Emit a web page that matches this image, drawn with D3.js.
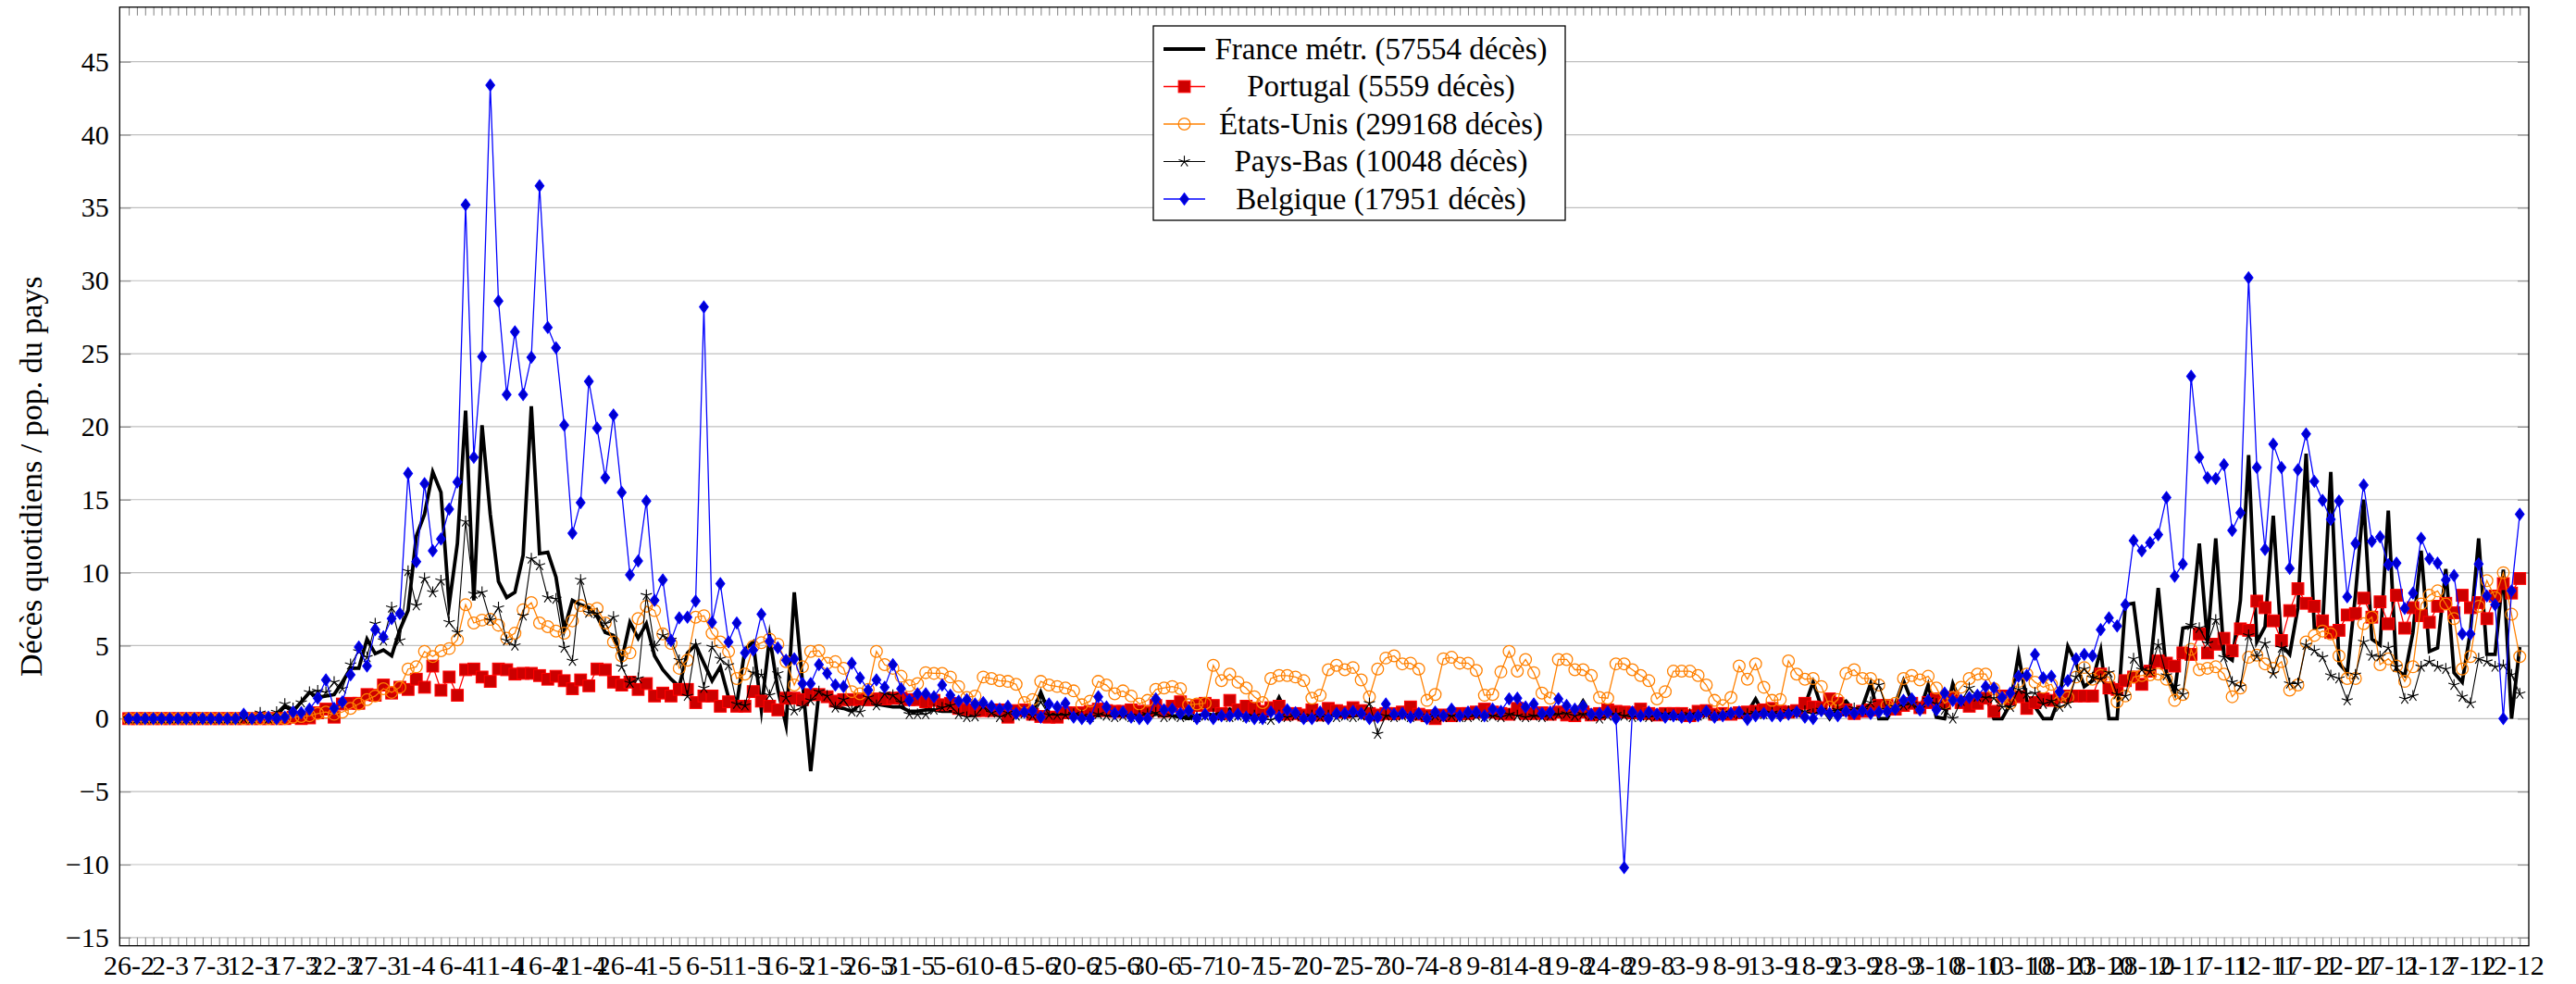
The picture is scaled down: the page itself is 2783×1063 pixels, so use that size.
<!DOCTYPE html>
<html>
<head>
<meta charset="utf-8">
<script src="https://cdn.jsdelivr.net/npm/d3@7"></script>
<style>
html, body { margin: 0; padding: 0; background: #fff; }
svg text { font-family: "Liberation Serif", "Times New Roman", serif; fill: #000; }
</style>
</head>
<body>
<svg id="chart" width="2783" height="1063"></svg>
<script>
// one value per day, from 26-2 (index 0) to 13-12 (index 291), deaths per million
const france = [
  0,0,0,0,0,0,0,0,0,0, 0,0,0,0,0,0.05,0.1,0.05,0.2,0.85,
  0.5,1.15,1.8,1.45,1.55,1.65,2.5,3.45,3.45,5.45, 4.45,4.7,4.3,6.1,7.4,12.5,14.0,16.9,15.5,7.8,
  12.0,21.1,8.1,20.1,14.0,9.4,8.3,8.65,11.2,21.4, 11.3,11.4,9.7,6.1,8.1,7.8,7.6,7.0,5.9,5.7,
  4.0,6.6,5.5,6.5,4.3,3.35,2.7,2.2,4.5,5.05, 3.8,2.6,3.55,1.45,1.0,4.75,5.25,0.6,5.6,2.0,
  -0.45,8.65,2.5,-3.6,1.8,1.45,0.8,0.7,0.5,1.0, 1.0,1.0,0.9,0.8,0.8,0.5,0.5,0.6,0.6,0.5,
  0.5,0.5,0.4,0.4,0.5,0.4,0.3,0.4,0.3,0.4, 0.4,1.8,0.4,0.3,0.3,0.3,0.2,0.3,0.2,0.3,
  0.2,0.3,0.2,0.3,0.2,0.3,0.4,0.2,0.1,0.0, 0.2,0.3,0.2,0.3,0.65,0.3,0.2,0.3,0.2,0.3,
  1.45,0.3,0.2,0.3,0.2,0.1,0.2,0.3,0.2,0.3, 0.2,0.3,0.2,0.3,0.2,0.3,0.2,0.2,0.3,0.2,
  0.2,0.3,0.2,0.2,0.2,0.2,0.3,0.3,0.6,0.3, 0.2,0.3,0.2,0.3,
  0.4,0.3,0.3,1.2,0.3,0.25,0.3,0.2,0.3,0.35, 0.3,0.4,0.3,0.35,0.3,0.4,0.35,0.3,0.5,0.2,
  0.35,0.4,0.5,0.4,1.35,0.3,0.6,0.7,0.7,0.7, 0.9,2.5,0.8,0.0,0.9,1.2,0.5,0.8,2.4,0.0,
  0.0,1.0,2.6,1.2,0.6,2.3,0.1,0.0,2.4,1.0, 0.9,1.3,1.6,0.0,0.0,1.0,4.4,1.2,0.8,
  0,0,1.5,4.95,3.8,2.2,2.6,4.7,0,0, 7.8,7.9,3.45,3.35,8.95,3.15,1.8,6.2,6.3,12.0,
  5.25,12.35,4.4,4.0,8.1,18.05,5.25,6.3,13.9,5.05, 4.4,7.6,18.15,6.2,6.3,16.9,3.8,3.15,8.45,15.0,
  5.45,5.05,14.25,3.35,2.95,5.9,11.5,4.6,4.85,10.25, 3.15,2.5,6.0,12.35,4.4,4.4,10.2,0,4.9
];
const portugal = [
  0,0,0,0,0,0,0,0,0,0, 0,0,0,0,0,0,0,0,0,0,
  0.1,0,0.05,0.4,0.65,0.1,1.0,1.05,1.05,1.65, 1.6,2.3,1.75,2.15,2.0,2.7,2.15,3.6,1.95,2.85,
  1.6,3.35,3.4,2.85,2.55,3.4,3.35,3.05,3.1,3.1, 2.95,2.7,2.9,2.6,2.05,2.65,2.25,3.4,3.35,2.5,
  2.3,2.5,2.0,2.4,1.55,1.75,1.55,2.0,2.0,1.1, 1.55,1.55,0.85,1.15,0.85,0.85,1.85,1.2,0.85,0.6,
  1.4,1.4,1.3,1.65,1.65,1.5,1.2,1.3,1.3,1.35, 1.3,1.35,1.35,1.4,1.4,1.3,1.3,1.15,1.25,0.95,
  1.05,0.7,0.6,0.55,0.55,0.55,0.6,0.1,0.55,0.6, 0.3,0.15,0.1,0.1,0.4,
  0.4,
  0.4,0.5,0.65,0.55,0.5,0.5,0.6,0.5,0.5,0.9, 0.5,0.85,1.15,0.75,0.9,1.05,0.9,0.35,1.25,0.6,
  0.85,0.7,0.5,0.75,0.85,0.3,0.35,0.25,0.6,0.25, 0.7,0.55,0.45,0.75,0.55,0.35,0.25,0.35,0.35,0.45,
  0.8,0.3,0.2,0,0.25,0.2,0.35,0.35,0.45,0.65, 0.45,0.35,0.3,0.7,0.35,0.35,0.4,0.3,
  0.45,0.25,0.2,0.45,0.25,0.35,0.6,0.5,0.45,0.4, 0.65,0.35,0.25,0.35,0.35,0.35,0.2,0.5,0.55,0.3,
  0.35,0.3,0.4,0.45,0.5,0.6,0.7,0.5,0.45,0.55, 1.05,0.8,0.75,1.35,1.05,0.6,0.35,0.5,0.6,0.9,
  0.9,0.65,0.9,1.05,0.75,1.1,1.35,1.05,1.45,1.1, 0.85,1.05,1.4,0.5,1.55,1.35,1.5,0.7,1.1,
  1.35,1.25,1.5,1.55,1.55,1.55,1.55,3.05,2.1,2.0, 2.6,2.85,2.35,3.25,3.95,3.8,3.6,4.5,4.4,5.8,
  4.5,5.1,5.5,4.65,6.15,6.05,8.05,7.6,6.7,5.35, 7.4,8.9,7.9,7.7,6.7,5.9,6.05,7.1,7.2,8.25,
  6.95,8.0,6.5,8.45,6.2,7.6,7.05,6.6,7.7,7.9, 7.25,8.45,7.6,7.95,6.85,8.4,9.25,8.6,9.6
];
const usa = [
  0,0,0,0,0,0,0,0,0,0, 0,0,0,0,0,0,0,0,0,0,
  0.1,0.15,0.2,0.35,0.45,0.3,0.45,0.7,1.0,1.3, 1.55,2.05,1.8,2.15,3.4,3.55,4.6,4.25,4.65,4.8,
  5.4,7.8,6.55,6.75,6.8,6.4,5.5,5.85,7.45,7.95, 6.55,6.3,6.0,5.85,6.7,7.75,7.45,7.55,6.55,5.25,
  4.3,4.5,6.85,7.7,7.4,5.8,5.15,3.45,4.0,6.95, 7.05,5.85,5.25,4.6,2.75,3.05,4.95,5.2,5.45,5.1,
  3.9,2.3,3.55,4.6,4.65,3.8,3.9,3.45,1.85,1.7, 2.0,4.6,3.7,3.45,2.9,2.25,2.4,3.15,3.1,3.1,
  2.85,2.2,1.45,1.55,2.85,2.75,2.6,2.55,2.35,1.1, 1.3,2.55,2.3,2.2,2.1,
  1.9,0.95,1.2,2.55,2.3,1.7,1.9,1.55,1.0,1.25, 2.0,2.1,2.2,2.05,0.95,1.0,1.05,3.65,2.6,3.05,
  2.5,2.1,1.5,1.1,2.75,2.95,2.95,2.85,2.6,1.4, 1.6,3.35,3.65,3.35,3.5,2.65,1.5,3.4,4.15,4.3,
  3.75,3.8,3.4,1.25,1.65,4.1,4.2,3.8,3.8,3.3, 1.6,1.65,3.2,4.6,3.25,4.05,3.15,1.75,1.4,
  4.05,4.05,3.35,3.35,2.95,1.45,1.4,3.75,3.75,3.35, 2.95,2.6,1.35,1.85,3.25,3.25,3.25,2.95,2.3,1.25,
  0.9,1.45,3.6,2.7,3.75,2.15,1.25,1.3,3.95,3.05, 2.7,2.75,2.2,0.8,1.3,3.1,3.35,2.75,2.75,2.3,
  0.9,1.05,2.75,2.95,2.65,2.9,2.1,1.05,1.45,2.15, 2.75,3.05,3.05,2.05,1.4,1.05,2.55,3.05,2.5,
  2.15,2.35,1.15,1.45,2.85,3.5,2.7,2.95,2.85,1.15, 1.55,2.85,2.95,3.0,3.05,2.7,1.25,1.65,4.75,3.35,
  3.45,3.55,3.05,1.5,2.1,4.2,4.35,3.75,3.45,3.9, 1.95,2.3,5.25,5.7,6.0,5.8,4.3,2.75,2.75,6.5,
  6.95,3.7,4.1,3.6,2.55,3.55,7.85,8.45,8.75,7.85, 6.85,3.4,4.25,7.7,9.45,8.3,10.0,7.15,4.25
];
const paysBas = [
  0,0,0,0,0,0,0,0,0,0, 0,0,0,0,0,0,0.4,0,0.45,1.0,
  0.7,1.1,1.8,1.9,1.8,2.5,2.05,3.7,4.6,4.2, 6.5,5.35,7.6,5.35,10.1,7.75,9.6,8.65,9.45,6.6,
  5.9,13.5,8.55,8.65,6.75,7.6,5.35,5.0,7.05,10.95, 10.5,8.3,8.2,4.85,3.95,9.5,7.25,7.2,6.5,6.95,
  3.55,2.45,2.75,8.45,4.95,5.7,5.4,4.0,1.55,5.05, 2.1,4.9,4.1,3.65,1.0,0.9,3.15,3.0,1.6,3.1,
  1.45,0.55,0.8,1.25,1.85,1.55,0.75,1.3,0.5,0.45, 1.45,0.9,1.7,1.6,1.1,0.3,0.3,0.3,0.6,0.75,
  0.9,0.3,0.1,0.15,0.85,0.4,0.1,0.4,0.2,0.35, 0.2,1.15,0.25,0.25,0.25,
  0.3,0.2,0.1,0.3,0.2,0.1,0.2,0.1,0.2,0.3, 0.4,0.1,0.2,0.1,0.2,0.1,0.2,0.3,0.2,0.1,
  0.2,0.1,0.2,0.0,-0.1,0.2,0.1,0.2,0.1,0.2, 0.1,0.2,0.1,0.2,0.1,0.2,1.05,-1.05,0.2,0.1,
  0.2,0.1,0.2,0.1,0.2,0.1,0.2,0.1,0.1,0.2, 0.1,0.2,0.1,0.3,0.2,0.1,0.2,0.1,0.2,
  0.3,0.35,0.2,0.3,0.2,0.0,0.2,0.3,0.2,0.1, 0.2,0.1,0.2,0.3,0.2,0.2,0.3,0.2,0.3,0.2,
  0.3,0.4,0.3,0.3,0.4,0.3,0.4,0.3,0.5,0.4, 0.5,0.3,0.6,0.5,0.6,0.5,0.7,0.6,1.1,2.3,
  0.6,0.8,0.9,1.0,0.7,1.3,1.0,0.6,0.0,1.2, 2.1,1.5,1.45,1.4,0.8,0.8,2.0,1.7,1.75,
  1.0,1.2,0.8,1.05,2.85,3.4,2.8,2.7,3.15,1.65, 1.55,4.1,3.35,3.25,5.05,2.95,2.2,1.65,6.4,6.2,
  5.15,6.75,4.2,2.5,2.2,5.7,4.25,5.15,3.1,4.85, 2.4,2.4,5.05,4.65,4.2,2.95,2.75,1.25,3.0,5.25,
  4.3,4.25,4.85,3.55,1.35,1.55,3.55,3.9,3.55,3.4, 2.3,1.5,1.05,4.1,3.9,3.55,3.65,3.0,1.7
];
const belgique = [
  0,0,0,0,0,0,0,0,0,0, 0,0,0,0,0.3,0,0.1,0.1,0,0.1,
  0.45,0.4,0.65,1.4,2.65,0.7,1.15,3.0,4.9,3.6, 6.1,5.6,6.85,7.2,16.8,10.75,16.1,11.5,12.3,14.35,
  16.2,35.2,17.9,24.8,43.4,28.6,22.2,26.5,22.2,24.75, 36.5,26.8,25.4,20.1,12.7,14.8,23.1,19.9,16.5,20.8,
  15.5,9.85,10.8,14.9,8.1,9.5,5.35,6.9,6.95,8.05, 28.2,6.6,9.25,5.25,6.55,4.5,4.7,7.15,5.3,4.85,
  4.0,4.1,2.4,2.4,3.7,3.1,2.3,2.2,3.8,2.8, 1.95,2.65,2.15,3.7,2.05,1.25,1.7,1.7,1.5,2.3,
  1.6,1.2,1.3,1.0,1.1,0.85,0.65,0.85,0.35,0.45, 0.55,0.1,1.0,0.8,1.05,
  0.1,
  0,0,1.5,0.8,0.35,0.45,0.1,0,0,1.35, 0.6,0.65,0.35,0.55,0,0.3,0,0.2,0.2,0.3,
  0.1,0,0,0.45,0.1,0.6,0.4,0,0,0.45, 0,0.35,0.35,0.5,0.35,0,0.1,1.0,0.3,0.35,
  0.1,0.35,0,0.45,0.2,0.65,0.2,0.45,0.45,0.2, 0.65,0.5,1.35,1.4,0.8,1.0,0.35,0.45,
  1.35,0.9,0.65,0.85,0.3,0.35,0.45,0,-10.2,0.45, 0.2,0.45,0.3,0.1,0.2,0.1,0.1,0.2,0.5,0.1,
  0.2,0.35,0.45,-0.05,0.2,0.35,0.2,0.2,0.3,0.45, 0.1,0,0.55,0.35,0.2,0.5,0.35,0.55,0.35,0.45,
  0.5,0.65,1.25,1.35,0.6,1.25,0.6,1.75,1.25,1.25, 1.45,1.6,2.2,2.1,1.45,1.75,2.9,2.95,4.4,
  2.8,2.9,1.85,2.6,4.1,4.4,4.3,6.1,6.9,6.35, 7.8,12.2,11.5,12.05,12.6,15.15,9.75,10.6,23.45,17.9,
  16.5,16.45,17.4,12.9,14.1,30.2,17.2,11.6,18.8,17.2, 10.3,17.05,19.5,16.25,14.95,13.65,14.9,8.35,12.0,16.0,
  12.15,12.45,10.55,10.65,7.55,8.6,12.35,10.95,10.65,9.5, 9.8,5.8,5.8,10.6,8.4,7.8,0,8.75,14.0
];

// one label every 5 days
const tickLabels = [
  "26-2","2-3","7-3","12-3","17-3","22-3","27-3","1-4","6-4","11-4","16-4","21-4","26-4",
  "1-5","6-5","11-5","16-5","21-5","26-5","31-5","5-6","10-6","15-6","20-6","25-6","30-6",
  "5-7","10-7","15-7","20-7","25-7","30-7","4-8","9-8","14-8","19-8","24-8","29-8",
  "3-9","8-9","13-9","18-9","23-9","28-9","3-10","8-10","13-10","18-10","23-10","28-10",
  "2-11","7-11","12-11","17-11","22-11","27-11","2-12","7-12","12-12"
];
const yTicks = [-15,-10,-5,0,5,10,15,20,25,30,35,40,45];
const legendLabels = [
  "France métr. (57554 décès)",
  "Portugal (5559 décès)",
  "États-Unis (299168 décès)",
  "Pays-Bas (10048 décès)",
  "Belgique (17951 décès)"
];

const series = [
  {values: france,   line: "#000", width: 3.8,  mark: null},
  {values: portugal, line: "#ff0000", width: 1.27, mark: "square",  fill: "#cc0000"},
  {values: usa,      line: "#ff8000", width: 1.27, mark: "circle",  fill: "none"},
  {values: paysBas,  line: "#000", width: 1.1,  mark: "star",    fill: "none"},
  {values: belgique, line: "#0000ff", width: 1.27, mark: "diamond", fill: "#0000cc"}
];
series.forEach(s => console.assert(s.values.length === 292, s.values.length));

const W = 2783, H = 1063;
const margin = {left: 129.3, right: 51, top: 7.7, bottom: 41.3};

const x = d3.scaleLinear().domain([-1.1, 292.1]).range([margin.left, W - margin.right]);
const y = d3.scaleLinear().domain([-15.56, 48.74]).range([H - margin.bottom, margin.top]);

const svg = d3.select("#chart");

// horizontal grid
svg.append("g").selectAll("line")
    .data(yTicks)
    .enter().append("line")
    .attr("x1", margin.left).attr("x2", W - margin.right)
    .attr("y1", d => y(d)).attr("y2", d => y(d))
    .style("stroke", "#bfbfbf")
    .style("stroke-width", 1.2);

// axes (ticks point inwards like pgfplots)
const days = d3.range(0, 292);
const xBottom = svg.append("g")
    .attr("transform", `translate(0,${H - margin.bottom})`)
    .call(d3.axisBottom(x).tickValues(days).tickSize(-9).tickSizeOuter(0).tickPadding(10)
        .tickFormat(d => d % 5 === 0 ? tickLabels[d / 5] : ""));
const xTop = svg.append("g")
    .attr("transform", `translate(0,${margin.top})`)
    .call(d3.axisTop(x).tickValues(days).tickSize(-9).tickSizeOuter(0).tickFormat(""));
const yLeft = svg.append("g")
    .attr("transform", `translate(${margin.left},0)`)
    .call(d3.axisLeft(y).tickValues(yTicks).tickSize(-12).tickSizeOuter(0).tickPadding(11.5));
const yRight = svg.append("g")
    .attr("transform", `translate(${W - margin.right},0)`)
    .call(d3.axisRight(y).tickValues(yTicks).tickSize(-12).tickSizeOuter(0).tickFormat(""));

[xBottom, xTop, yLeft, yRight].forEach(g => {
    g.select(".domain").remove();
    g.selectAll(".tick line").style("stroke", "#8c8c8c").style("stroke-width", 1.1);
    g.selectAll("text").style("font-family", "'Liberation Serif', serif").style("font-size", "30px").attr("fill", "#000");
});

// frame
svg.append("rect")
    .attr("x", margin.left).attr("y", margin.top)
    .attr("width", W - margin.left - margin.right)
    .attr("height", H - margin.top - margin.bottom)
    .style("fill", "none").style("stroke", "#000").style("stroke-width", 1.3);

// y axis title
svg.append("text")
    .attr("transform", `translate(33,${(margin.top + H - margin.bottom) / 2}) rotate(-90)`)
    .attr("text-anchor", "middle")
    .attr("dominant-baseline", "central")
    .style("font-size", "34px")
    .text("Décès quotidiens / pop. du pays");

function drawMark(sel, s) {
    const r = 6.35;
    if (s.mark === "square") {
        sel.append("rect").attr("x", -r).attr("y", -r).attr("width", 2 * r).attr("height", 2 * r)
            .style("fill", s.fill).style("stroke", s.line).style("stroke-width", 1.1);
    } else if (s.mark === "circle") {
        sel.append("circle").attr("r", r)
            .style("fill", "none").style("stroke", s.line).style("stroke-width", 1.27);
    } else if (s.mark === "diamond") {
        sel.append("path").attr("d", `M0,${-r}L${0.75 * r},0L0,${r}L${-0.75 * r},0Z`)
            .style("fill", s.fill).style("stroke", s.line).style("stroke-width", 1.1);
    } else if (s.mark === "star") {
        const p = d3.range(5).map(k => {
            const a = Math.PI / 2 + k * 2 * Math.PI / 5;
            return `M0,0L${(r * Math.cos(a)).toFixed(2)},${(-r * Math.sin(a)).toFixed(2)}`;
        }).join("");
        sel.append("path").attr("d", p)
            .style("fill", "none").style("stroke", s.line).style("stroke-width", 1.1);
    }
}

const plot = svg.append("g");
const line = d3.line().x((d, i) => x(i)).y(d => y(d));

series.forEach(s => {
    const g = plot.append("g");
    g.append("path")
        .datum(s.values)
        .attr("d", line)
        .style("fill", "none")
        .style("stroke", s.line)
        .style("stroke-width", s.width)
        .style("stroke-linejoin", "miter")
        .style("stroke-miterlimit", 10);
    if (s.mark) {
        g.selectAll(".m")
            .data(s.values)
            .enter().append("g")
            .attr("class", "m")
            .attr("transform", (d, i) => `translate(${x(i)},${y(d)})`)
            .each(function () { drawMark(d3.select(this), s); });
    }
});

// legend
const lg = svg.append("g");
lg.append("rect")
    .attr("x", 1246).attr("y", 28).attr("width", 445).attr("height", 210)
    .style("fill", "#fff").style("stroke", "#000").style("stroke-width", 1.3);
series.forEach((s, i) => {
    const cy = 53 + i * 40.5;
    lg.append("line")
        .attr("x1", 1257).attr("x2", 1302).attr("y1", cy).attr("y2", cy)
        .style("stroke", s.line).style("stroke-width", s.width);
    if (s.mark) {
        const m = lg.append("g").attr("transform", `translate(1279.5,${cy})`);
        drawMark(m, s);
    }
    lg.append("text")
        .attr("x", 1492).attr("y", cy + 10.5)
        .attr("text-anchor", "middle")
        .style("font-size", "33px")
        .text(legendLabels[i]);
});
</script>
</body>
</html>
